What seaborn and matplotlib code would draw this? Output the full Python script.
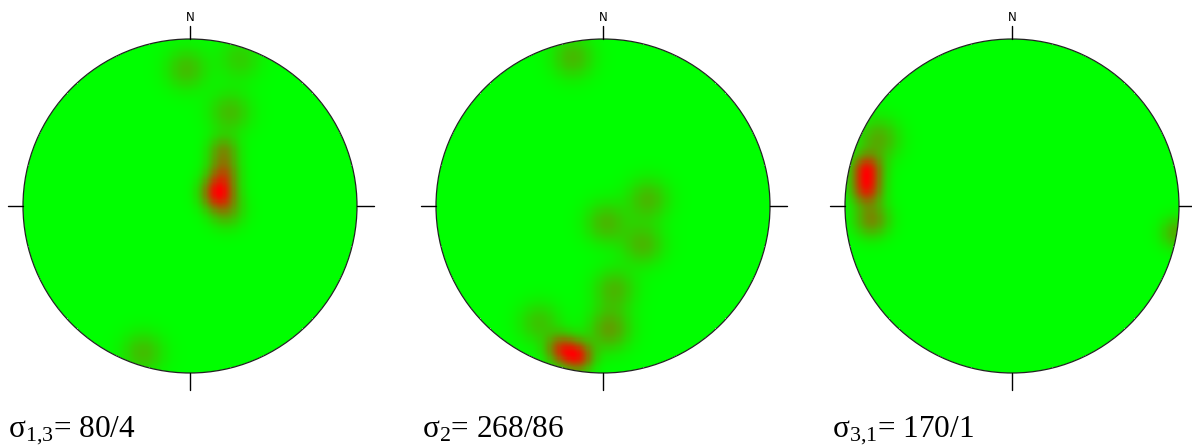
import matplotlib
matplotlib.use("Agg")
import matplotlib.pyplot as plt
from matplotlib.colors import LinearSegmentedColormap
from matplotlib.patches import Circle
import numpy as np
import seaborn as sns

sns.set_theme(style="white")
plt.rcParams.update({
    "font.family": ["Liberation Serif", "DejaVu Serif"],
    "mathtext.fontset": "custom",
    "mathtext.rm": "Liberation Serif",
    "mathtext.it": "Liberation Serif:italic",
    "text.color": "black",
})

# density concentrations on each stereonet: (x, y, weight, spread), unit-circle coords
BLOBS_1 = [(0.17, 0.08, 1.00, 0.07), (0.22, -0.03, 0.35, 0.075), (0.20, 0.20, 0.55, 0.065),
           (0.20, 0.33, 0.45, 0.065), (0.24, 0.56, 0.30, 0.09), (-0.02, 0.82, 0.30, 0.09),
           (0.30, 0.88, 0.22, 0.09), (-0.28, -0.88, 0.30, 0.09)]
BLOBS_2 = [(-0.15, -0.90, 0.85, 0.065), (-0.25, -0.86, 0.70, 0.065), (-0.18, 0.89, 0.30, 0.09),
           (0.27, 0.04, 0.30, 0.09), (0.02, -0.10, 0.30, 0.09), (0.24, -0.23, 0.30, 0.09),
           (0.07, -0.50, 0.30, 0.09), (0.04, -0.74, 0.40, 0.09), (-0.38, -0.70, 0.25, 0.09)]
BLOBS_3 = [(-0.87, 0.22, 0.75, 0.065), (-0.87, 0.10, 0.70, 0.065), (-0.84, -0.08, 0.42, 0.075),
           (-0.80, 0.40, 0.30, 0.09), (0.99, -0.16, 0.30, 0.07)]
PANELS = [BLOBS_1, BLOBS_2, BLOBS_3]
LABELS = [r"σ$_{\mathrm{1{,}3}}$= 80/4", r"σ$_{\mathrm{2}}$= 268/86", r"σ$_{\mathrm{3{,}1}}$= 170/1"]

# layout in pixels
FIG_W, FIG_H = 1192, 446
CENTERS = [(190, 206), (603, 206), (1012, 206)]
LABEL_X = [8, 422, 832]
R_PX = 167
HALF_PX = 195
N = 300

cmap = LinearSegmentedColormap.from_list("gr", ["#00ff00", "#ff0000"])

v = -1 + (np.arange(N) + 0.5) * 2 / N
X, Y = np.meshgrid(v, v[::-1])
outside = X ** 2 + Y ** 2 > 1.0


def cx(x):
    return (x + 1) * N / 2


def cy(y):
    return (1 - y) * N / 2


fig = plt.figure(figsize=(FIG_W / 100, FIG_H / 100), dpi=100)

for blobs, (px, py), label, lx in zip(PANELS, CENTERS, LABELS, LABEL_X):
    ax = fig.add_axes([(px - HALF_PX) / FIG_W, (FIG_H - py - HALF_PX) / FIG_H,
                       2 * HALF_PX / FIG_W, 2 * HALF_PX / FIG_H])
    dens = np.zeros_like(X)
    for bx, by, w, s in blobs:
        dens += w * np.exp(-((X - bx) ** 2 + (Y - by) ** 2) / (2 * s ** 2))
    dens = np.clip(dens / dens.max(), 0, 1)

    sns.heatmap(dens, ax=ax, cmap=cmap, vmin=0, vmax=1, cbar=False, mask=outside,
                xticklabels=False, yticklabels=False)
    circ = Circle((N / 2, N / 2), N / 2, transform=ax.transData, facecolor="none")
    ax.collections[0].set_clip_path(circ)
    ax.add_patch(Circle((N / 2, N / 2), N / 2, facecolor="none", edgecolor="#222222", lw=0.9))

    # N / E / S / W ticks
    for (x0, y0), (x1, y1) in [((0, 1), (0, 1.08)), ((0, -1), (0, -1.1)),
                               ((-1.09, 0), (-1, 0)), ((1, 0), (1.1, 0))]:
        ax.plot([cx(x0), cx(x1)], [cy(y0), cy(y1)], color="black", lw=1.0)
    ax.text(cx(0), cy(1.13), "N", ha="center", va="center", fontsize=8.5,
            family="DejaVu Sans", color="black")

    lim = HALF_PX / R_PX
    ax.set_xlim(cx(-lim), cx(lim))
    ax.set_ylim(cy(-lim), cy(lim))
    ax.axis("off")

    fig.text(lx / FIG_W, 9 / FIG_H, label, fontsize=22.5, ha="left", va="baseline")

fig.savefig("out.png", dpi=100)
